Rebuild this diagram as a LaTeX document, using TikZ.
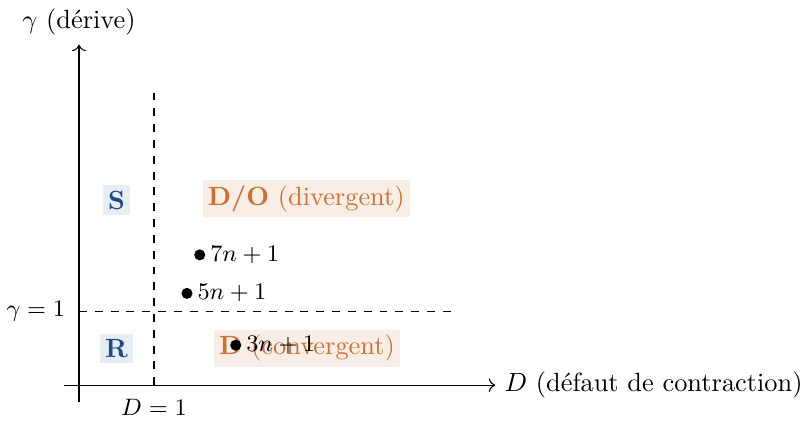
\documentclass[tikz,border=0pt]{standalone}
\usepackage{amsmath,amssymb}
\usepackage{tikz}
\usetikzlibrary{arrows.meta,positioning,shapes}
\usepackage{xcolor}
\definecolor{stabblue}{RGB}{30,75,135}
\definecolor{divorange}{RGB}{205,112,50}

\begin{document}
\begin{tikzpicture}[x=1cm,y=0.987cm]
  \tikzstyle{BlueStyle}=[fill=stabblue!10, text=stabblue, font=\bfseries, inner sep=2pt]
  \tikzstyle{OrangeStyle}=[fill=divorange!12, text=divorange, inner sep=2pt]
  \tikzstyle{DotStyle}=[circle, fill=black, inner sep=0pt, minimum size=4.2pt]
  \tikzstyle{MapStyle}=[font=\small, inner sep=1.5pt]
  \useasboundingbox (-1.053,-0.473) rectangle (9.693,5.203);

  % axes
  \coordinate (xa) at (-0.2,0);
  \coordinate (xb) at (5.55,0);
  \coordinate (ya) at (0,-0.23);
  \coordinate (yb) at (0,4.6);
  \draw[->] (xa) -- (xb);
  \draw[->] (ya) -- (yb);
  \node[right] (xlab) at (xb) {$D$ (défaut de contraction)};
  \node[above] (ylab) at (yb) {$\gamma$ (dérive)};

  % thresholds
  \coordinate (dlo) at (1,0);
  \coordinate (dhi) at (1,4);
  \coordinate (glo) at (0,1);
  \coordinate (ghi) at (5,1);
  \draw[dashed] (dlo) -- (dhi);
  \draw[dashed] (glo) -- (ghi);
  \node[below=0.06cm, font=\small] (dlab) at (dlo) {$D=1$};
  \node[left=0.06cm, font=\small] (glab) at (glo) {$\gamma=1$};

  % regions
  \node[BlueStyle] (S) at (0.5,2.5) {S};
  \node[BlueStyle] (R) at (0.5,0.5) {R};
  \node[OrangeStyle] (DO) at (3.03,2.52) {\textbf{D/O} (divergent)};
  \node[OrangeStyle] (DC) at (3.04,0.5) {\textbf{D} (convergent)};

  % maps
  \node[DotStyle] (p7) at (1.61,1.76) {};
  \node[DotStyle] (p5) at (1.44,1.24) {};
  \node[DotStyle] (p3) at (2.09,0.54) {};
  \node[MapStyle, right=0pt of p7] (l7) {$7n+1$};
  \node[MapStyle, right=0pt of p5] (l5) {$5n+1$};
  \node[MapStyle, right=0pt of p3] (l3) {$3n+1$};
\end{tikzpicture}
\end{document}
